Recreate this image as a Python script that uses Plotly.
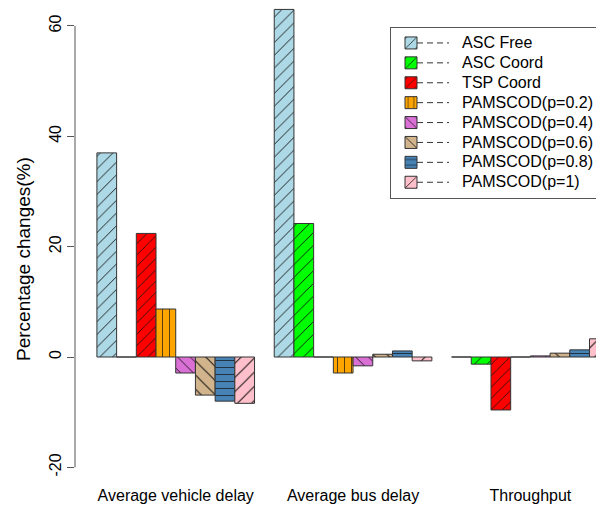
import plotly.graph_objects as go

# Performance indicators (one group of bars per indicator)
categories = ["Average vehicle delay", "Average bus delay", "Throughput"]

# Percentage changes for each control strategy
series_names = [
    "ASC Free", "ASC Coord", "TSP Coord",
    "PAMSCOD(p=0.2)", "PAMSCOD(p=0.4)", "PAMSCOD(p=0.6)",
    "PAMSCOD(p=0.8)", "PAMSCOD(p=1)",
]
asc_free = [37.0, 63.0, 0.0]
asc_coord = [0.0, 24.2, -1.3]
tsp_coord = [22.4, 0.0, -9.6]
pamscod_02 = [8.7, -2.9, 0.0]
pamscod_04 = [-2.9, -1.6, 0.2]
pamscod_06 = [-6.9, 0.5, 0.7]
pamscod_08 = [-8.0, 1.1, 1.3]
pamscod_10 = [-8.4, -0.7, 3.3]

y_ticks = [-20, 0, 20, 40, 60]
y_title = "Percentage changes(%)"

series_values = [asc_free, asc_coord, tsp_coord, pamscod_02,
                 pamscod_04, pamscod_06, pamscod_08, pamscod_10]

# Fill colours and hatch directions per strategy
fill_colors = ["#ADD8E6", "#00FF00", "#FF0000", "#FFA500",
               "#DA70D6", "#D2B48C", "#4682B4", "#FFC0CB"]
hatch_shapes = ["/", "/", "/", "|", "\\", "\\", "-", "/"]
hatch_sizes = [9, 9, 8, 7, 9, 10, 7, 10]

FONT = "Liberation Sans, Arial, Helvetica, sans-serif"
W, H = 596, 508
M_L, M_R, M_T, M_B = 75, 0, 0, 30
PLOT_W = W - M_L - M_R
PLOT_H = H - M_T - M_B

# Legend geometry (pixels relative to the figure)
LEG_LEFT_PX = 390
LEG_TOP_PX = 27
LEG_FONT = 13
ROW_H = LEG_FONT * 1.3 + 3
PAD = "\u00a0" * 7

fig = go.Figure()
for name, vals, col, shp, sz in zip(series_names, series_values,
                                    fill_colors, hatch_shapes, hatch_sizes):
    fig.add_trace(go.Bar(
        x=categories,
        y=vals,
        name=f'<span style="font-size:16px">{PAD}{name}</span>',
        marker=dict(
            color=col,
            line=dict(color="#333333", width=1),
            pattern=dict(shape=shp, size=sz, solidity=0.1,
                         fgcolor="#111111", fgopacity=1),
        ),
        hoverinfo="skip",
    ))

shapes = [
    # y axis line spanning the labelled tick range only
    dict(type="line", xref="paper", yref="y", x0=0, x1=0,
         y0=min(y_ticks), y1=max(y_ticks),
         line=dict(color="#555555", width=1)),
]
# dashed line samples next to each legend swatch
for i in range(len(series_names)):
    cy = LEG_TOP_PX + 1 + 5 + ROW_H / 2 + i * ROW_H
    py = 1 - (cy - M_T) / PLOT_H
    x0 = (LEG_LEFT_PX + 27 - M_L) / PLOT_W
    x1 = (LEG_LEFT_PX + 59 - M_L) / PLOT_W
    shapes.append(dict(type="line", xref="paper", yref="paper",
                       x0=x0, x1=x1, y0=py, y1=py, layer="above",
                       line=dict(color="#333333", width=1, dash="6px,4px")))

fig.update_layout(
    width=W, height=H,
    margin=dict(l=M_L, r=M_R, t=M_T, b=M_B, autoexpand=False),
    paper_bgcolor="white",
    plot_bgcolor="white",
    barmode="group",
    bargap=1 / 9,
    bargroupgap=0,
    font=dict(family=FONT, size=16, color="black"),
    showlegend=True,
    xaxis=dict(
        type="category",
        range=[-0.568, 2.370],
        showgrid=False, zeroline=False, showline=False,
        ticks="", tickfont=dict(size=16, color="black"),
        ticklabelstandoff=6,
    ),
    yaxis=dict(
        range=[-21.93, 64.71],
        tickvals=y_ticks,
        ticktext=[str(v) for v in y_ticks],
        tickangle=-90,
        ticks="outside", ticklen=7, tickcolor="#555555", tickwidth=1,
        tickfont=dict(size=16, color="black"),
        showgrid=False, zeroline=False, showline=False,
    ),
    legend=dict(
        x=(LEG_LEFT_PX - M_L) / PLOT_W,
        y=1 - (LEG_TOP_PX - M_T) / PLOT_H,
        xanchor="left", yanchor="top",
        bgcolor="rgba(255,255,255,0)", bordercolor="#555555", borderwidth=1,
        font=dict(family=FONT, size=LEG_FONT, color="black"),
        tracegroupgap=0,
    ),
    shapes=shapes,
    annotations=[
        dict(text=y_title, textangle=-90, xref="paper", yref="paper",
             x=0, y=1 - (259 - M_T) / PLOT_H, xanchor="center",
             yanchor="middle", xshift=-52, showarrow=False,
             font=dict(family=FONT, size=19, color="black")),
    ],
)

fig.write_html("out.html")
